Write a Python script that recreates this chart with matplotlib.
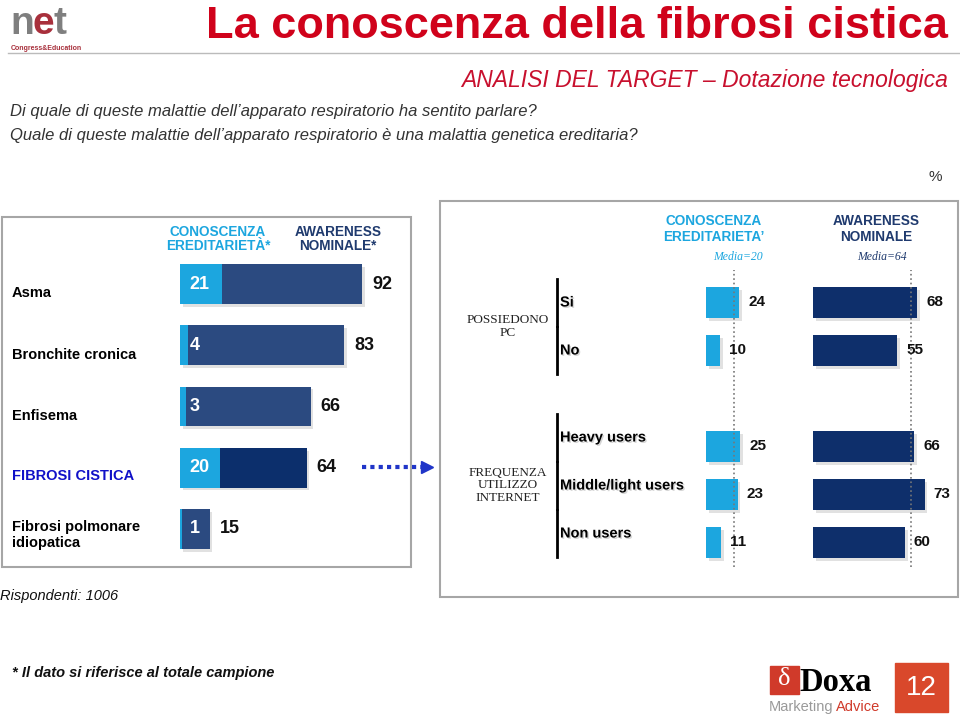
import numpy as np
import matplotlib
matplotlib.use('Agg')
import matplotlib.pyplot as plt
import matplotlib.patheffects as pe
from matplotlib.patches import Rectangle

plt.rcParams['font.family'] = ['Liberation Sans', 'DejaVu Sans']

# Data
diseases = ['Asma', 'Bronchite cronica', 'Enfisema', 'FIBROSI CISTICA', 'Fibrosi polmonare\nidiopatica']
conoscenza = [21, 4, 3, 20, 1]
awareness = [92, 83, 66, 64, 15]
highlight = 'FIBROSI CISTICA'

groups = ['POSSIEDONO\nPC', 'FREQUENZA\nUTILIZZO\nINTERNET']
group_rows = [['Si', 'No'], ['Heavy users', 'Middle/light users', 'Non users']]
seg_conoscenza = [24, 10, 25, 23, 11]
seg_awareness = [68, 55, 66, 73, 60]
media_conoscenza = 20
media_awareness = 64

LIGHT = '#1CA6DF'
DARK = '#2B4A80'
DARK_HI = '#0C2F6C'
NAVY_TXT = '#1F3A6E'
RED = '#D0021B'

W, H = 960, 717
fig = plt.figure(figsize=(W / 100, H / 100), dpi=100)
base = fig.add_axes([0, 0, 1, 1])
base.set_xlim(0, W)
base.set_ylim(H, 0)
base.axis('off')


def px_axes(x0, y0, x1, y1):
    ax = fig.add_axes([x0 / W, 1 - y1 / H, (x1 - x0) / W, (y1 - y0) / H])
    ax.axis('off')
    return ax


shadow = [pe.withSimplePatchShadow(offset=(2, -2), shadow_rgbFace='#AAAAAA', alpha=0.35)]

# Header
base.text(10, 34, 'n', fontsize=28, fontweight='bold', color='#7F7F7F', va='baseline')
base.text(33, 34, 'e', fontsize=28, fontweight='bold', color='#A8303C', va='baseline')
base.text(53, 34, 't', fontsize=28, fontweight='bold', color='#7F7F7F', va='baseline')
base.text(11, 45, 'Congress&Education', fontsize=5, fontweight='bold', color='#A8303C', va='top')
base.plot([8, 960], [53, 53], color='#BBBBBB', lw=1)
base.text(948, 38, 'La conoscenza della fibrosi cistica', fontsize=32.5, fontweight='bold',
          color=RED, ha='right', va='baseline')
base.text(948, 87, 'ANALISI DEL TARGET \u2013 Dotazione tecnologica', fontsize=16.5, style='italic',
          color='#C8102E', ha='right', va='baseline')
base.text(10, 116, 'Di quale di queste malattie dell\u2019apparato respiratorio ha sentito parlare?',
          fontsize=12, style='italic', color='#333333', va='baseline')
base.text(10, 140, 'Quale di queste malattie dell\u2019apparato respiratorio \u00e8 una malattia genetica ereditaria?',
          fontsize=12, style='italic', color='#333333', va='baseline')
base.text(935, 177, '%', fontsize=11, color='#333333', ha='center', va='center')

# Boxes
base.add_patch(Rectangle((2, 217), 409, 350, fill=False, ec='#A6A6A6', lw=1.5))
base.add_patch(Rectangle((440, 201), 518, 396, fill=False, ec='#A6A6A6', lw=1.5))

# Left panel headers
base.text(218, 239, 'CONOSCENZA\nEREDITARIET\u00c0*', fontsize=9.8, fontweight='bold', color=LIGHT,
          ha='center', va='center', linespacing=1.05)
base.text(338, 239, 'AWARENESS\nNOMINALE*', fontsize=9.8, fontweight='bold', color=NAVY_TXT,
          ha='center', va='center', linespacing=1.05)

# Left panel bars
axl = px_axes(180, 253.4, 400, 559.6)
axl.set_xlim(0, 220 / 1.98)
axl.set_ylim(len(diseases) - 0.5, -0.5)
ypos = np.arange(len(diseases))
dark_cols = [DARK_HI if d == highlight else DARK for d in diseases]
bars = axl.barh(ypos, awareness, height=0.65, color=dark_cols)
for b in bars:
    b.set_path_effects(shadow)
axl.barh(ypos, conoscenza, height=0.65, color=LIGHT)
for y, c, a in zip(ypos, conoscenza, awareness):
    axl.annotate(str(c), (0, y), xytext=(7, 0), textcoords='offset points', color='white',
                 fontsize=13, fontweight='bold', va='center', ha='left')
    axl.annotate(str(a), (a, y), xytext=(7, 0), textcoords='offset points', color='#111111',
                 fontsize=13, fontweight='bold', va='center', ha='left')

# Left panel category labels
label_y = [293, 355, 416, 476, 535]
for d, y in zip(diseases, label_y):
    base.text(12, y, d, fontsize=10.5, fontweight='bold',
              color='#1010C8' if d == highlight else 'black', va='center', linespacing=1.1)

# Dotted arrow
base.plot([362, 424], [467, 467], color='#2035C8', lw=3, ls=(0, (1, 1)))
base.plot([427], [467], marker='>', color='#2035C8', markersize=8)

# Right panel headers
base.text(714, 229, "CONOSCENZA\nEREDITARIETA\u2019", fontsize=9.8, fontweight='bold', color=LIGHT,
          ha='center', va='center', linespacing=1.1)
base.text(876, 229, 'AWARENESS\nNOMINALE', fontsize=9.8, fontweight='bold', color=NAVY_TXT,
          ha='center', va='center', linespacing=1.1)
base.text(738, 257, 'Media=%d' % media_conoscenza, fontsize=8.5, style='italic', color=LIGHT,
          ha='center', va='center', family='Liberation Serif')
base.text(882, 257, 'Media=%d' % media_awareness, fontsize=8.5, style='italic', color=NAVY_TXT,
          ha='center', va='center', family='Liberation Serif')

# Row positions: one empty slot between groups
rows, pos = [], []
p = 0
for g in group_rows:
    for r in g:
        rows.append(r)
        pos.append(p)
        p += 1
    p += 1
pos = np.array(pos)

top_px, bot_px, step = 270, 567, 48
y_lo = (top_px - 302.5) / step
y_hi = (bot_px - 302.5) / step

axc = px_axes(706, top_px, 796, bot_px)
axc.set_xlim(0, 90 / 1.375)
axc.set_ylim(y_hi, y_lo)
bc = axc.barh(pos, seg_conoscenza, height=0.65, color=LIGHT)
for b in bc:
    b.set_path_effects(shadow)
axc.axvline(media_conoscenza, color='#777777', ls=':', lw=1.2, zorder=3)
for y, v in zip(pos, seg_conoscenza):
    axc.annotate(str(v), (v, y), xytext=(6.5, 0), textcoords='offset points', fontsize=11,
                 fontweight='bold', va='center', ha='left', color='#111111')

axa = px_axes(813, top_px, 955, bot_px)
axa.set_xlim(0, 142 / 1.53)
axa.set_ylim(y_hi, y_lo)
ba = axa.barh(pos, seg_awareness, height=0.65, color='#0E2F6B')
for b in ba:
    b.set_path_effects(shadow)
axa.axvline(media_awareness, color='#777777', ls=':', lw=1.2, zorder=3)
for y, v in zip(pos, seg_awareness):
    axa.annotate(str(v), (v, y), xytext=(6.5, 0), textcoords='offset points', fontsize=11,
                 fontweight='bold', va='center', ha='left', color='#111111')

# Row labels and separators
i = 0
for gi, (g, members) in enumerate(zip(groups, group_rows)):
    ys = []
    shift = 0 if gi == 0 else -9
    for r in members:
        y = 302.5 + step * pos[i] + shift
        base.text(560, y, r, fontsize=10.5, fontweight='bold', va='center', ha='left', color='black',
                  path_effects=[pe.withSimplePatchShadow(offset=(1, -1), shadow_rgbFace='#BBBBBB', alpha=0.6)])
        base.plot([557, 557], [y - 24, y + 23], color='black', lw=2)
        ys.append(y)
        i += 1
    base.text(508, np.mean(ys), g, fontsize=9.5, family='Liberation Serif', ha='center', va='center',
              color='#222222', linespacing=1.05)

# Footer
base.text(0, 596, 'Rispondenti: 1006', fontsize=10.5, style='italic', color='#111111', va='center')
base.text(12, 673, '* Il dato si riferisce al totale campione', fontsize=10.5, style='italic',
          fontweight='bold', color='#111111', va='center')

# Doxa logo
base.add_patch(Rectangle((770, 666), 29, 28, color='#D03A2A'))
base.text(784.5, 679, '\u03b4', fontsize=19, color='white', ha='center', va='center', family='Liberation Serif')
base.text(799, 691, 'Doxa', fontsize=23.5, fontweight='bold', family='Liberation Serif', color='black',
          va='baseline')
base.text(769, 711, 'Marketing', fontsize=10.5, color='#9A9A9A', va='baseline')
base.text(836, 711, 'Advice', fontsize=10.5, color='#D03A2A', va='baseline')
base.add_patch(Rectangle((895, 663), 53, 49, color='#D9482B'))
base.text(921.5, 688, '12', fontsize=20, color='white', ha='center', va='center')

fig.savefig('out.png', dpi=100)
